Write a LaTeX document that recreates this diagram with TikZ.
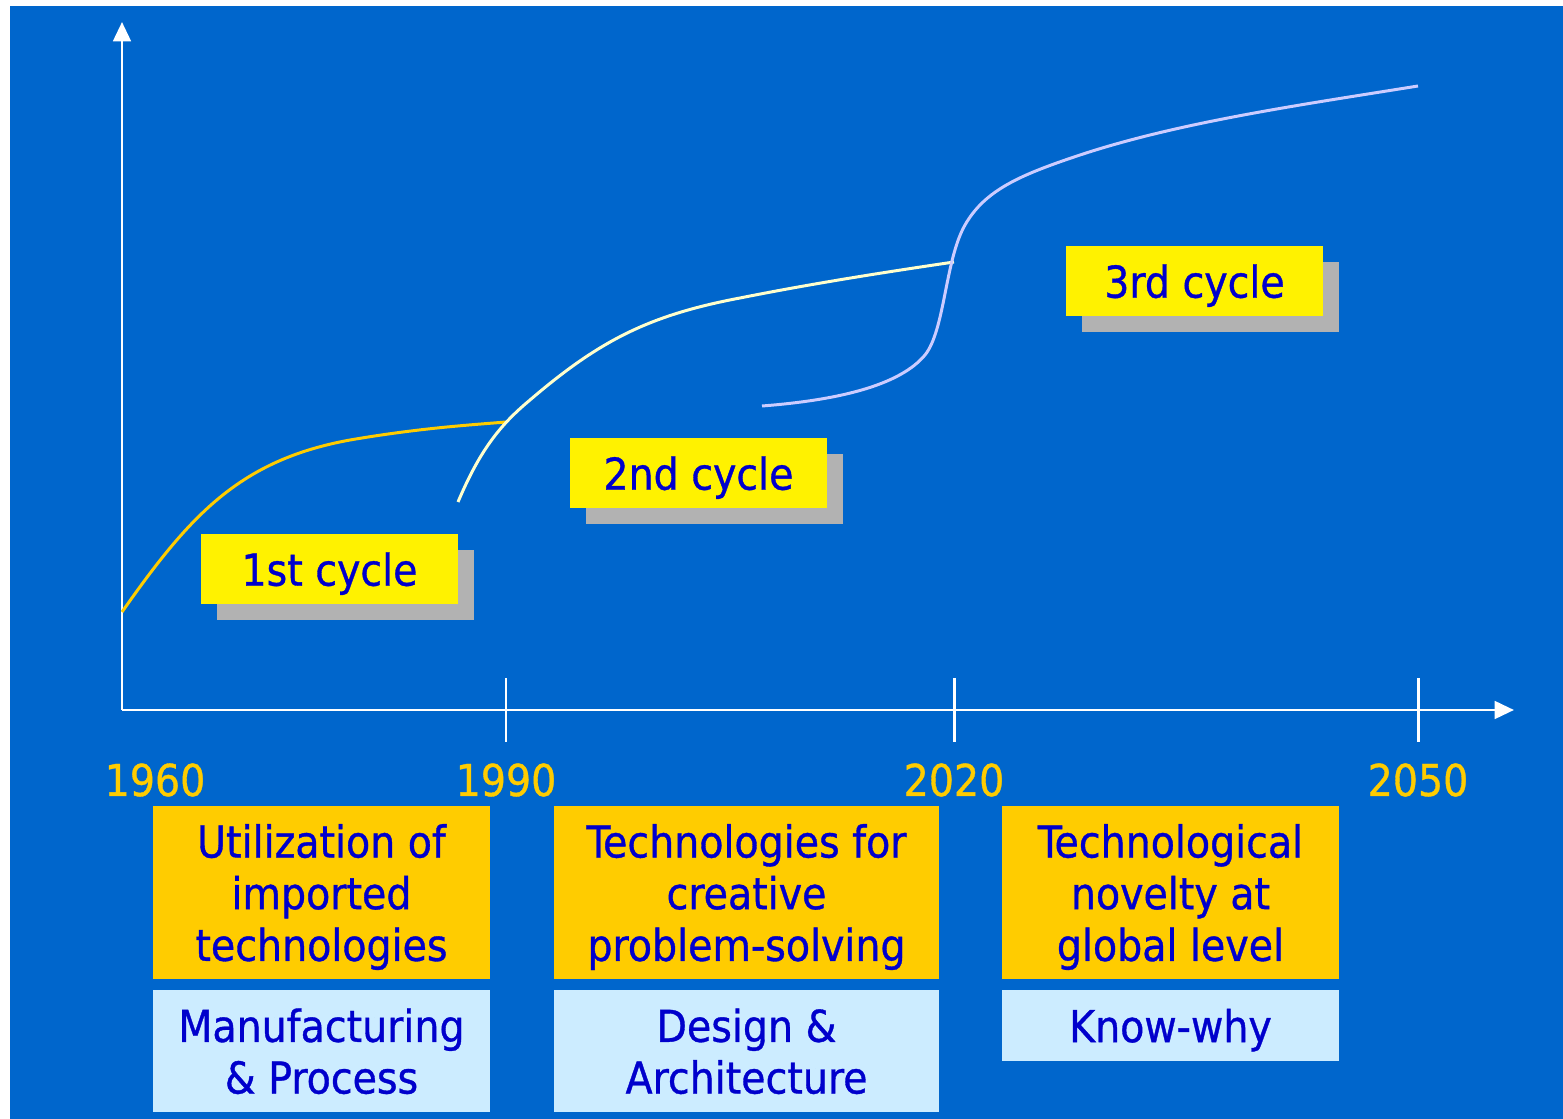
\documentclass[tikz,border=0pt]{standalone}
\usepackage{fontspec}
\setmainfont[FakeBold=0.8]{DejaVu Sans Condensed}
\usepackage{tikz}
\usetikzlibrary{arrows.meta, positioning, shadows}

\definecolor{slideblue}{HTML}{0066CC}
\definecolor{textblue}{HTML}{0000CC}
\definecolor{gold}{HTML}{FFCC00}
\definecolor{paleblue}{HTML}{CCECFF}
\definecolor{paleyellow}{HTML}{FFFFCC}
\definecolor{lavender}{HTML}{CCCCFF}
\definecolor{shadowgrey}{HTML}{B2B2B2}

\tikzset{
  axis/.style={white, line width=0.85pt},
  curve/.style={line width=0.85pt},
  year/.style={text=gold},
  cyclebox/.style={fill=yellow, text=textblue, inner sep=0pt, text depth=0pt,
    minimum width=2.57cm, minimum height=0.70cm,
    drop shadow={shadow xshift=0.16cm, shadow yshift=-0.16cm, fill=shadowgrey, opacity=1}},
  phasebox/.style={fill=gold, text=textblue, inner sep=0pt, align=center, text depth=0pt, minimum height=1.73cm},
  focusbox/.style={fill=paleblue, text=textblue, inner sep=0pt, align=center, text depth=0pt, below=0.1cm of #1},
}

\begin{document}
\begin{tikzpicture}[x=0.01cm, y=-0.01cm, font=\fontsize{12.5}{14.7}\selectfont]
% Slide background
\useasboundingbox (0,0) rectangle (1563,1119);
\fill[slideblue] (10,6) rectangle (1563,1119);

% Axes
\coordinate (origin) at (122,710);
\coordinate (ytop) at (122,22);
\coordinate (xend) at (1514,710);
\draw[axis, -{Triangle[length=5.5pt, width=5pt]}] (origin) -- (ytop);
\draw[axis, -{Triangle[length=5.5pt, width=5pt]}] (origin) -- (xend);
\foreach \x in {506, 954, 1418}
  \draw[axis] (\x,678) -- (\x,742);

% Years
\node[year] (y1960) at (155,780) {1960};
\node[year] (y1990) at (506,780) {1990};
\node[year] (y2020) at (954,780) {2020};
\node[year] (y2050) at (1418,780) {2050};

% Growth curves
\draw[curve, gold] (122,612) .. controls (190,515) and (240,460) .. (350,440)
  .. controls (420,428) and (470,425) .. (506,422);
\draw[curve, paleyellow] (458,502) .. controls (480,450) and (500,425) .. (530,400)
  .. controls (600,340) and (650,315) .. (740,298)
  .. controls (820,282) and (900,270) .. (954,262);
\draw[curve, lavender] (762,406) .. controls (840,400) and (900,385) .. (925,355)
  .. controls (945,330) and (945,260) .. (965,225)
  .. controls (985,190) and (1020,175) .. (1080,155)
  .. controls (1180,122) and (1300,105) .. (1418,86);

% Cycle labels
\node[cyclebox] (cycle1) at (329.5,569) {1st cycle};
\node[cyclebox] (cycle2) at (698.5,473) {2nd cycle};
\node[cyclebox] (cycle3) at (1194.5,281) {3rd cycle};

% Phases
\node[phasebox, minimum width=3.37cm] (util) at (321.5,892.5) {Utilization of\\imported\\technologies};
\node[phasebox, minimum width=3.85cm] (creative) at (746.5,892.5) {Technologies for\\creative\\problem-solving};
\node[phasebox, minimum width=3.37cm] (novelty) at (1170.5,892.5) {Technological\\novelty at\\global level};

\node[focusbox=util, minimum width=3.37cm, minimum height=1.21cm] (manuf) {Manufacturing\\\& Process};
\node[focusbox=creative, minimum width=3.85cm, minimum height=1.21cm] (design) {Design \&\\Architecture};
\node[focusbox=novelty, minimum width=3.37cm, minimum height=0.70cm] (knowwhy) {Know-why};
\end{tikzpicture}
\end{document}
